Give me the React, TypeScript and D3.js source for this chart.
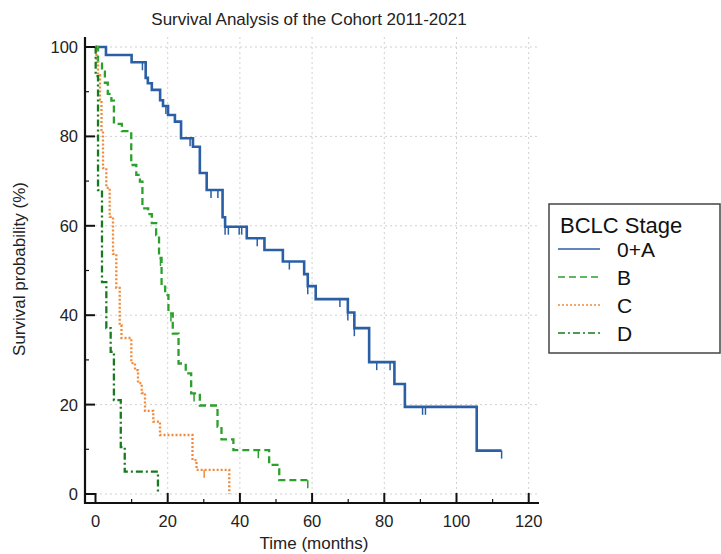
import React from "react";
import * as d3 from "d3";

const title = "Survival Analysis of the Cohort 2011-2021";
const xLabel = "Time (months)";
const yLabel = "Survival probability (%)";
const legendTitle = "BCLC Stage";
const groups = ["0+A", "B", "C", "D"];
const xTicks = [0, 20, 40, 60, 80, 100, 120];
const yTicks = [0, 20, 40, 60, 80, 100];
const xMinor = [10, 30, 50, 70, 90, 110];
const yMinor = [10, 30, 50, 70, 90];

const timesA = [0, 2.9, 10.0, 13.9, 14.5, 15.6, 17.9, 18.7, 20.1, 22.0, 23.7, 27.0, 28.9, 30.8, 35.2, 35.9, 41.9, 46.8, 51.9, 57.8, 58.8, 61.0, 69.9, 71.7, 75.8, 82.8, 85.7, 105.6, 112.5];
const survA = [100, 98.2, 96.6, 93.1, 91.9, 90.4, 88.1, 86.8, 84.8, 83.3, 79.6, 77.7, 71.8, 68.0, 61.9, 59.8, 57.2, 54.6, 52.0, 49.2, 46.5, 43.6, 40.6, 37.1, 29.5, 24.6, 19.5, 9.7, 9.7];
const censorA = [13.0, 19.5, 26.2, 26.9, 32.0, 33.9, 35.9, 36.8, 39.8, 40.5, 44.8, 53.7, 58.8, 67.7, 69.9, 71.7, 77.9, 81.6, 90.6, 91.4, 112.5];

const timesB = [0, 0.7, 1.8, 2.6, 3.4, 4.4, 5.1, 7.3, 9.9, 11.3, 12.3, 13.0, 14.6, 15.6, 16.8, 17.6, 18.3, 19.3, 20.2, 21.4, 23.0, 25.0, 26.5, 28.9, 33.8, 34.9, 38.2, 48.1, 50.9, 58.8];
const survB = [100, 96.3, 94.5, 92.0, 89.5, 88.0, 82.8, 81.2, 73.6, 71.4, 69.9, 63.9, 62.6, 60.6, 57.9, 52.8, 46.4, 44.5, 40.4, 35.9, 29.2, 27.0, 22.5, 19.8, 15.1, 12.2, 9.8, 6.5, 3.1, 3.1];
const censorB = [18.0, 20.9, 27.3, 45.1, 58.8];

const timesC = [0, 0.28, 0.69, 1.25, 1.66, 2.08, 2.99, 3.93, 4.85, 5.76, 6.70, 7.20, 9.92, 10.94, 11.77, 12.80, 13.71, 16.01, 17.87, 26.87, 27.98, 37.06];
const survC = [100, 96.6, 93.7, 88.1, 81.4, 72.9, 68.5, 62.0, 53.7, 46.1, 37.8, 34.9, 29.3, 27.7, 24.8, 22.6, 18.6, 16.2, 13.2, 7.6, 5.4, 0];
const censorC = [30.1];

const timesD = [0, 0.05, 0.7, 1.8, 3.0, 4.2, 5.1, 7.0, 8.1, 17.3];
const survD = [100, 93.5, 68.0, 47.4, 37.1, 31.8, 21.0, 10.5, 5.0, 0];
const censorD: number[] = [];

const colors = ["#2a5fa6", "#2ca02c", "#f08a3a", "#177a1f"];
const dashes = ["none", "7,4", "2,2", "7,3,2,3"];
const widths = [2.6, 2.3, 2.3, 2.3];

const seriesTimes = [timesA, timesB, timesC, timesD];
const seriesSurv = [survA, survB, survC, survD];
const seriesCensor = [censorA, censorB, censorC, censorD];

const FONT = "'Liberation Sans', Arial, sans-serif";

export default function App() {
  const x = d3.scaleLinear().domain([0, 120]).range([95.5, 528.7]);
  const y = d3.scaleLinear().domain([0, 100]).range([494, 47]);
  const axL = 85, axB = 503, axR = 539, axT = 37;
  const line = d3
    .line<[number, number]>()
    .x((d) => x(d[0]))
    .y((d) => y(d[1]))
    .curve(d3.curveStepAfter);

  const survAt = (ts: number[], ss: number[], t: number) => {
    let s = ss[0];
    for (let i = 0; i < ts.length; i++) if (ts[i] <= t) s = ss[i];
    return s;
  };

  return (
    <svg width={721} height={554} style={{ position: "absolute", left: 0, top: 0, background: "#fff" }}>
      <rect x={0} y={0} width={721} height={554} fill="#fff" />
      <text x={309} y={25} textAnchor="middle" fontFamily={FONT} fontSize={17} fill="#222">{title}</text>
      {/* grid */}
      {xTicks.filter((t) => t > 0).map((t) => (
        <line key={"gx" + t} x1={x(t)} x2={x(t)} y1={axT} y2={axB} stroke="#d0d0d0" strokeDasharray="2,3" strokeWidth={1} />
      ))}
      {yTicks.map((t) => (
        <line key={"gy" + t} x1={axL} x2={axR} y1={y(t)} y2={y(t)} stroke="#d0d0d0" strokeDasharray="2,3" strokeWidth={1} />
      ))}
      {/* curves */}
      {seriesTimes.map((ts, i) => {
        const pts: [number, number][] = ts.map((t, j) => [t, seriesSurv[i][j]]);
        return (
          <path key={"c" + i} d={line(pts) || ""} fill="none" stroke={colors[i]} strokeWidth={widths[i]} strokeDasharray={dashes[i]} />
        );
      })}
      {seriesCensor.map((cs, i) =>
        cs.map((t, j) => {
          const s = survAt(seriesTimes[i], seriesSurv[i], t);
          return <line key={"k" + i + "-" + j} x1={x(t)} x2={x(t)} y1={y(s)} y2={y(s) + 8} stroke={colors[i]} strokeWidth={1.5} />;
        })
      )}
      {/* axes */}
      <line x1={axL} x2={axL} y1={axT} y2={axB + 1} stroke="#111" strokeWidth={2.2} />
      <line x1={axL - 1} x2={axR} y1={axB} y2={axB} stroke="#111" strokeWidth={2.2} />
      {yTicks.map((t) => (
        <g key={"yt" + t}>
          <line x1={axL} x2={axL + 10} y1={y(t)} y2={y(t)} stroke="#111" strokeWidth={2} />
          <text x={78} y={y(t) + 6} textAnchor="end" fontFamily={FONT} fontSize={16.5} fill="#222">{t}</text>
        </g>
      ))}
      {yMinor.map((t) => (
        <line key={"ym" + t} x1={axL} x2={axL + 4} y1={y(t)} y2={y(t)} stroke="#111" strokeWidth={1.2} />
      ))}
      {xTicks.map((t) => (
        <g key={"xt" + t}>
          <line x1={x(t)} x2={x(t)} y1={axB} y2={axB - 10} stroke="#111" strokeWidth={2} />
          <text x={x(t)} y={527} textAnchor="middle" fontFamily={FONT} fontSize={16.5} fill="#222">{t}</text>
        </g>
      ))}
      {xMinor.map((t) => (
        <line key={"xm" + t} x1={x(t)} x2={x(t)} y1={axB} y2={axB - 4} stroke="#111" strokeWidth={1.2} />
      ))}
      <text x={314} y={549} textAnchor="middle" fontFamily={FONT} fontSize={17} fill="#222">{xLabel}</text>
      <text transform="translate(25,269) rotate(-90)" textAnchor="middle" fontFamily={FONT} fontSize={17} fill="#222">{yLabel}</text>
      {/* legend */}
      <rect x={549} y={204} width={171} height={149} fill="#fff" stroke="#444" strokeWidth={1.5} />
      <text x={560} y={233} fontFamily={FONT} fontSize={22} fill="#111">{legendTitle}</text>
      {groups.map((g, i) => {
        const cy = 249 + i * 28;
        return (
          <g key={"lg" + g}>
            <line x1={558} x2={600} y1={cy} y2={cy} stroke={colors[i]} strokeWidth={1.6} strokeDasharray={dashes[i]} />
            <text x={617} y={cy + 7.5} fontFamily={FONT} fontSize={21} fill="#111">{g}</text>
          </g>
        );
      })}
    </svg>
  );
}
